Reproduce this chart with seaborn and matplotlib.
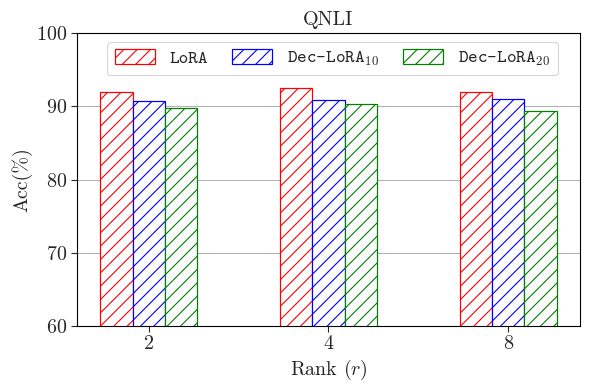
import seaborn as sns
import numpy as np
import pandas as pd
import matplotlib.pyplot as plt
from matplotlib.font_manager import FontProperties

# QNLI accuracy vs rank, LoRA vs Dec-LoRA
ranks = ['2', '4', '8']
methods = ['LoRA', 'Dec-LoRA$_{10}$', 'Dec-LoRA$_{20}$']
lora = [91.9, 92.5, 91.9]
dec_lora_10 = [90.7, 90.8, 91.0]
dec_lora_20 = [89.7, 90.3, 89.4]
colors = ['red', 'blue', 'green']

df = pd.DataFrame({
    'rank': ranks * 3,
    'method': np.repeat(methods, len(ranks)),
    'acc': lora + dec_lora_10 + dec_lora_20,
})

sns.set_style('ticks')
plt.rcParams['font.family'] = 'serif'
plt.rcParams['font.serif'] = ['cmr10']
plt.rcParams['mathtext.fontset'] = 'cm'
plt.rcParams['axes.formatter.use_mathtext'] = True
plt.rcParams['hatch.linewidth'] = 1.0

fig, ax = plt.subplots(figsize=(590 / 80, 390 / 80), dpi=80)
fig.subplots_adjust(left=0.1305, right=0.983, top=0.9154, bottom=0.164)

sns.barplot(data=df, x='rank', y='acc', hue='method', order=ranks,
            hue_order=methods, palette=colors, width=0.54, legend=False,
            errorbar=None, ax=ax)

for cont, col in zip(ax.containers, colors):
    for bar in cont:
        bar.set_facecolor('white')
        bar.set_edgecolor(col)
        bar.set_hatch('//')
        bar.set_linewidth(1.1)

ax.set_xlim(-0.40, 2.40)
ax.set_ylim(60, 100)
ax.set_yticks([60, 70, 80, 90, 100])
ax.yaxis.grid(True, color='#b0b0b0', linewidth=0.9)
ax.set_axisbelow(True)
for s in ax.spines.values():
    s.set_visible(True)
    s.set_color('black')
    s.set_linewidth(1.0)
ax.tick_params(labelsize=18, direction='out', length=5, width=1.0)

ax.set_title('QNLI', fontsize=18, pad=7)
ax.set_xlabel('Rank ($r$)', fontsize=18)
ax.set_ylabel('Acc(%)', fontsize=18)

leg = ax.legend(ax.containers, methods, loc='upper center', ncol=3,
                bbox_to_anchor=(0.508, 1.0),
                prop=FontProperties(family='cmtt10', size=16.5),
                handlelength=2.2, handleheight=0.8, columnspacing=1.3,
                frameon=True, fancybox=True, borderaxespad=0.5)
leg.get_frame().set_edgecolor('#cccccc')

fig.savefig('out.png', dpi=80)
